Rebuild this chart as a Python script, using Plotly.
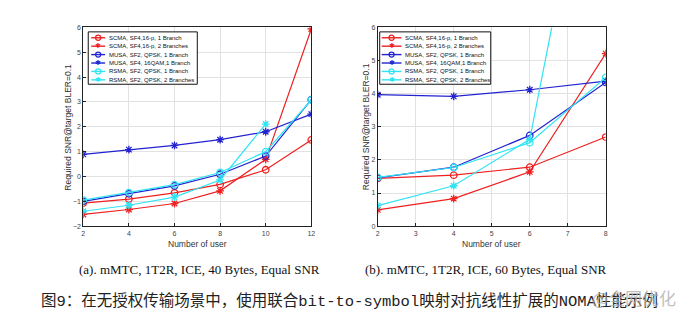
import plotly.graph_objects as go

W, H = 694, 326

# ---------------- data ----------------
x_a = [2, 4, 6, 8, 10, 12]
scma1_a = [-1.07, -0.91, -0.66, -0.32, 0.27, 1.47]
scma2_a = [-1.53, -1.33, -1.09, -0.58, 0.69, 5.94]
musa1_a = [-1.00, -0.70, -0.38, 0.09, 0.82, 3.09]
musa16_a = [0.89, 1.08, 1.25, 1.48, 1.80, 2.51]
rsma1_a = [-0.95, -0.65, -0.33, 0.16, 1.00, 3.08]
rsma2_a = [-1.40, -1.16, -0.83, -0.14, 2.11, None]

x_b = [2, 4, 6, 8]
scma1_b = [1.44, 1.54, 1.78, 2.69]
scma2_b = [0.49, 0.83, 1.64, 5.21]
musa1_b = [1.46, 1.78, 2.74, 4.34]
musa16_b = [3.97, 3.92, 4.12, 4.38]
rsma1_b = [1.47, 1.77, 2.52, 4.49]
rsma2_b = [0.62, 1.22, 2.62, 14.3]

series_names = [
    "SCMA, SF4,16-p, 1 Branch",
    "SCMA, SF4,16-p, 2 Branches",
    "MUSA, SF2, QPSK, 1 Branch",
    "MUSA, SF4, 16QAM,1 Branch",
    "RSMA, SF2, QPSK, 1 Branch",
    "RSMA, SF2, QPSK, 2 Branches",
]
x_ticks_a = [2, 4, 6, 8, 10, 12]
x_ticks_b = [2, 3, 4, 5, 6, 7, 8]
y_title = "Required SNR@target BLER=0.1"
x_title = "Number of user"
caption_a = "(a). mMTC, 1T2R, ICE, 40 Bytes, Equal SNR"
caption_b = "(b). mMTC, 1T2R, ICE, 60 Bytes, Equal SNR"
caption_cn = "图9：在无授权传输场景中，使用联合bit-to-symbol映射对抗线性扩展的NOMA性能示例"
watermark = "@全网优化"

# ---------------- styles ----------------
RED = "#ee2020"
BLUE = "#2222d0"
CYAN = "#30e4f4"
colors = [RED, RED, BLUE, BLUE, CYAN, CYAN]
symbols = ["circle-open", "asterisk-open", "circle-open", "asterisk-open", "circle-open", "asterisk-open"]

fig = go.Figure()

data_a = [scma1_a, scma2_a, musa1_a, musa16_a, rsma1_a, rsma2_a]
data_b = [scma1_b, scma2_b, musa1_b, musa16_b, rsma1_b, rsma2_b]

for i, ys in enumerate(data_a):
    fig.add_trace(go.Scatter(
        x=x_a, y=ys, name=series_names[i], mode="lines+markers",
        line=dict(color=colors[i], width=1.2),
        marker=dict(symbol=symbols[i], size=6.5, color=colors[i],
                    line=dict(color=colors[i], width=1.3)),
        xaxis="x", yaxis="y", showlegend=False, cliponaxis=True))

for i, ys in enumerate(data_b):
    fig.add_trace(go.Scatter(
        x=x_b, y=ys, name=series_names[i], mode="lines+markers",
        line=dict(color=colors[i], width=1.2),
        marker=dict(symbol=symbols[i], size=6.5, color=colors[i],
                    line=dict(color=colors[i], width=1.3)),
        xaxis="x2", yaxis="y2", showlegend=False, cliponaxis=True))


def px(x):
    return x / W


def py(y):
    return 1 - y / H


TOP, BOT = 24, 227
A_L, A_R = 82, 312
B_L, B_R = 379, 609

tickfont = dict(family="Liberation Sans, Arial", size=7, color="#444")
common = dict(showline=True, mirror=True, linecolor="#222", linewidth=1,
              ticks="inside", ticklen=3, tickcolor="#222",
              showgrid=True, gridcolor="#e2e2e2", gridwidth=1,
              zeroline=False, tickfont=tickfont)

fig.update_layout(
    width=W, height=H,
    margin=dict(l=0, r=0, t=0, b=0),
    paper_bgcolor="white", plot_bgcolor="white",
    showlegend=False,
    xaxis=dict(domain=[px(A_L), px(A_R)], range=[2, 12], tickvals=x_ticks_a, anchor="y", **common),
    yaxis=dict(domain=[py(BOT), py(TOP)], range=[-2, 6], dtick=1, anchor="x", **common),
    xaxis2=dict(domain=[px(B_L), px(B_R)], range=[2, 8], tickvals=x_ticks_b, anchor="y2", **common),
    yaxis2=dict(domain=[py(BOT), py(TOP)], range=[0, 6], dtick=1, anchor="x2", **common),
)

annotations = []
shapes = []

titlefont = dict(family="Liberation Sans, Arial", size=8.5, color="#333")
for cx in (66.5, 366.5):
    annotations.append(dict(x=px(cx), y=py((TOP + BOT) / 2), xref="paper", yref="paper",
                            text=y_title, showarrow=False, textangle=-90,
                            font=titlefont, xanchor="center", yanchor="middle"))
for cx in ((A_L + A_R) / 2, (B_L + B_R) / 2):
    annotations.append(dict(x=px(cx), y=py(245), xref="paper", yref="paper",
                            text=x_title, showarrow=False,
                            font=titlefont, xanchor="center", yanchor="middle"))

# custom compact legends (MATLAB style)
legfont = dict(family="Liberation Sans, Arial", size=6, color="#111")


def add_legend(bx0, bx1, by0, by1, lx0, lx1, tx):
    shapes.append(dict(type="rect", xref="paper", yref="paper",
                       x0=px(bx0), x1=px(bx1), y0=py(by1), y1=py(by0),
                       line=dict(color="#111", width=1), fillcolor="white", layer="above"))
    for i, name in enumerate(series_names):
        yy = 34.5 + i * 8.6
        shapes.append(dict(type="line", xref="paper", yref="paper",
                           x0=px(lx0), x1=px(lx1), y0=py(yy), y1=py(yy),
                           line=dict(color=colors[i], width=1.4), layer="above"))
        mx = (lx0 + lx1) / 2
        if symbols[i] == "circle-open":
            r = 2.6
            shapes.append(dict(type="circle", xref="paper", yref="paper",
                               x0=px(mx - r), x1=px(mx + r), y0=py(yy + r), y1=py(yy - r),
                               line=dict(color=colors[i], width=1.2), fillcolor="rgba(0,0,0,0)",
                               layer="above"))
        else:
            annotations.append(dict(x=px(mx), y=py(yy), xref="paper", yref="paper",
                                    text="✱", showarrow=False,
                                    font=dict(family="DejaVu Sans", size=7, color=colors[i]),
                                    xanchor="center", yanchor="middle"))
        annotations.append(dict(x=px(tx), y=py(yy), xref="paper", yref="paper",
                                text=name, showarrow=False, font=legfont,
                                xanchor="left", yanchor="middle"))


add_legend(87, 197, 28.5, 82, 90, 104, 106)
add_legend(381, 493, 28.5, 82, 383, 403, 405)

capfont = dict(family="Liberation Serif, Times New Roman", size=13, color="#111")
annotations.append(dict(x=px(199), y=py(271), xref="paper", yref="paper", text=caption_a,
                        showarrow=False, font=capfont, xanchor="center", yanchor="middle"))
annotations.append(dict(x=px(488), y=py(271), xref="paper", yref="paper", text=caption_b,
                        showarrow=False, font=capfont, xanchor="center", yanchor="middle"))
annotations.append(dict(x=px(37), y=py(304), xref="paper", yref="paper", text=caption_cn,
                        showarrow=False,
                        font=dict(family="Liberation Mono, Noto Sans CJK SC", size=15.5, color="#222"),
                        xanchor="left", yanchor="middle"))
annotations.append(dict(x=px(682), y=py(300), xref="paper", yref="paper", text=watermark,
                        showarrow=False,
                        font=dict(family="Noto Sans CJK SC", size=17, color="rgba(175,175,175,0.8)"),
                        xanchor="right", yanchor="middle"))

fig.update_layout(annotations=annotations, shapes=shapes)

fig.write_html("out.html")
